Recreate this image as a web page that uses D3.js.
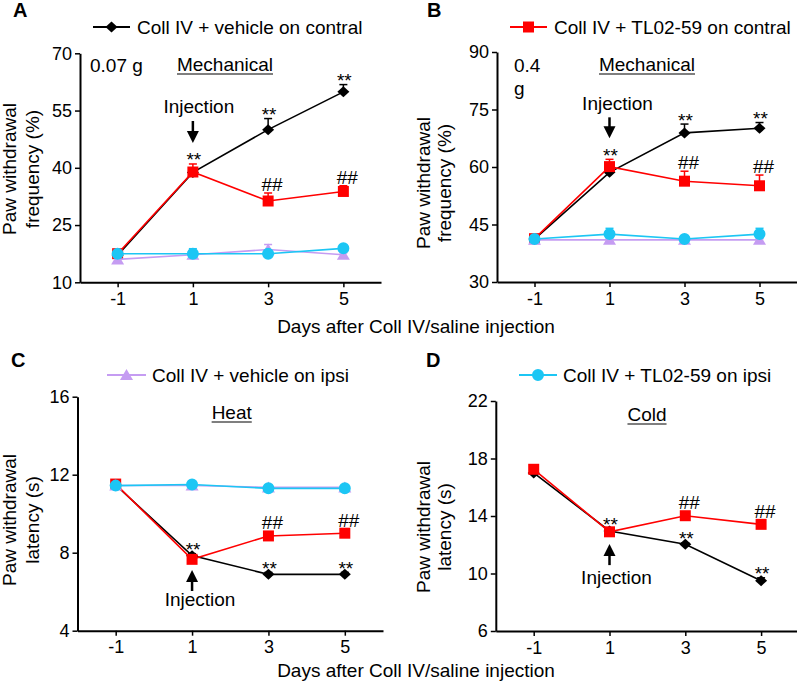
<!DOCTYPE html>
<html><head><meta charset="utf-8">
<script src="https://cdn.jsdelivr.net/npm/d3@7"></script>
<style>
body{margin:0;background:#fff}
svg{display:block}
text{font-family:"Liberation Sans",Arial,Helvetica,sans-serif;fill:#000}
</style>
</head><body>
<svg id="chart" width="797" height="685"></svg>
<script>
// ---------------- data ----------------
const days = [-1, 1, 3, 5];
const xTickValues = [-1, 1, 3, 5];
const seriesLabels = ["Coll IV + vehicle on contral", "Coll IV + TL02-59 on contral",
                      "Coll IV + vehicle on ipsi", "Coll IV + TL02-59 on ipsi"];

// Panel A – mechanical 0.07 g, frequency (%)
const aVehContral    = [17.1, 38.8, 50.0, 59.9];
const aVehContralErr = [0.5, 1.0, 2.9, 1.9];
const aTLContral     = [17.5, 38.9, 31.3, 33.8];
const aTLContralErr  = [0.5, 2.1, 2.1, 1.5];
const aVehIpsi       = [16.0, 17.2, 18.6, 17.2];
const aVehIpsiErr    = [0.5, 0.6, 1.3, 0.5];
const aTLIpsi        = [17.5, 17.5, 17.5, 18.9];
const aTLIpsiErr     = [0.5, 1.3, 0.5, 0.5];
const aYTicks = [10, 25, 40, 55, 70];

// Panel B – mechanical 0.4 g, frequency (%)
const bVehContral    = [41.2, 58.6, 68.9, 70.1];
const bVehContralErr = [0.4, 0.5, 2.3, 1.5];
const bTLContral     = [41.3, 60.1, 56.3, 55.1];
const bTLContralErr  = [0.4, 1.9, 2.6, 2.8];
const bVehIpsi       = [41.0, 41.0, 41.0, 41.0];
const bVehIpsiErr    = [0.3, 0.3, 0.3, 0.3];
const bTLIpsi        = [41.2, 42.5, 41.2, 42.5];
const bTLIpsiErr     = [0.4, 1.5, 0.5, 1.5];
const bYTicks = [30, 45, 60, 75, 90];

// Panel C – heat latency (s)
const cVehContral    = [11.47, 7.85, 6.89, 6.89];
const cVehContralErr = [0.1, 0.1, 0.1, 0.1];
const cTLContral     = [11.52, 7.66, 8.86, 9.0];
const cTLContralErr  = [0.1, 0.1, 0.1, 0.1];
const cVehIpsi       = [11.45, 11.45, 11.35, 11.35];
const cVehIpsiErr    = [0.1, 0.1, 0.1, 0.1];
const cTLIpsi        = [11.44, 11.5, 11.3, 11.3];
const cTLIpsiErr     = [0.1, 0.1, 0.1, 0.1];
const cYTicks = [4, 8, 12, 16];

// Panel D – cold latency (s)
const dVehContral    = [17.0, 12.96, 12.03, 9.5];
const dVehContralErr = [0.1, 0.1, 0.1, 0.2];
const dTLContral     = [17.25, 12.9, 14.02, 13.42];
const dTLContralErr  = [0.1, 0.1, 0.1, 0.1];
const dYTicks = [6, 10, 14, 18, 22];

// significance marks (days)
const starDays = [1, 3, 5];
const hashDays = [3, 5];

// ---------------- styles ----------------
const seriesStyle = [
  {color: "#000000", shape: "diamond"},
  {color: "#ff0000", shape: "square"},
  {color: "#c59cf2", shape: "triangle"},
  {color: "#1cc6f4", shape: "circle"}
];
const shapes = {
  diamond: "M0,-5.5L6,0L0,5.5L-6,0Z",
  square: "M-5.5,-5.5H5.5V5.5H-5.5Z",
  triangle: "M0,-6L6.5,5L-6.5,5Z",
  circle: d3.symbol(d3.symbolCircle, 113)()
};

const svg = d3.select("#chart");

const panels = [
  {letter: "A", lx: 13, ly: 17, left: 80, right: 381, top: 53.3, bottom: 282.3, yDomain: [10, 70], yTicks: aYTicks,
   series: [[aVehContral, aVehContralErr], [aTLContral, aTLContralErr], [aVehIpsi, aVehIpsiErr], [aTLIpsi, aTLIpsiErr]],
   legendIdx: 0, legend: {x1: 93, x2: 130, y: 27, tx: 137},
   yTitle: ["Paw withdrawal", "frequency (%)"], yt: {b1: 16, b2: 39, cy: 169},
   stim: "Mechanical", stimX: 225, stimY: 71,
   dose: [["0.07 g", 90, 72]],
   inj: {dir: "down", tipOff: -21, len: 22, textOff: -8, textDx: 6}},
  {letter: "B", lx: 427, ly: 17, left: 497, right: 797, top: 52, bottom: 282, yDomain: [30, 90], yTicks: bYTicks,
   series: [[bVehContral, bVehContralErr], [bTLContral, bTLContralErr], [bVehIpsi, bVehIpsiErr], [bTLIpsi, bTLIpsiErr]],
   legendIdx: 1, legend: {x1: 510, x2: 547, y: 27, tx: 554},
   yTitle: ["Paw withdrawal", "frequency (%)"], yt: {b1: 430, b2: 451, cy: 183},
   stim: "Mechanical", stimX: 647, stimY: 71,
   dose: [["0.4", 514, 72], ["g", 514, 95]],
   inj: {dir: "down", tipOff: -21, len: 21, textOff: -7, textDx: 8}},
  {letter: "C", lx: 11, ly: 367, left: 77.5, right: 383, top: 396.7, bottom: 630.7, yDomain: [4, 16], yTicks: cYTicks,
   series: [[cVehContral, cVehContralErr], [cTLContral, cTLContralErr], [cVehIpsi, cVehIpsiErr], [cTLIpsi, cTLIpsiErr]],
   legendIdx: 2, legend: {x1: 107, x2: 146, y: 375, tx: 152},
   yTitle: ["Paw withdrawal", "latency (s)"], yt: {b1: 16, b2: 39, cy: 520},
   stim: "Heat", stimX: 231.7, stimY: 419,
   dose: [],
   inj: {dir: "up", tipOff: 10.7, len: 21, textOff: 15, textDx: 8}},
  {letter: "D", lx: 426, ly: 367, left: 495.8, right: 799, top: 401, bottom: 631, yDomain: [6, 22], yTicks: dYTicks,
   series: [[dVehContral, dVehContralErr], [dTLContral, dTLContralErr]],
   legendIdx: 3, legend: {x1: 519, x2: 557, y: 375, tx: 563},
   yTitle: ["Paw withdrawal", "latency (s)"], yt: {b1: 430, b2: 451, cy: 527},
   stim: "Cold", stimX: 647, stimY: 421,
   dose: [],
   inj: {dir: "up", tipOff: 12.3, len: 21, textOff: 18.5, textDx: 7}}
];

function drawPanel(p) {
  const g = svg.append("g");
  const x = d3.scaleLinear().domain([-2, 6]).range([p.left, p.right]);
  const y = d3.scaleLinear().domain(p.yDomain).range([p.bottom, p.top]);

  // axes
  const ya = g.append("g").attr("transform", `translate(${p.left},0)`)
    .call(d3.axisLeft(y).tickValues(p.yTicks).tickFormat(d => String(d)).tickSize(5).tickPadding(3).tickSizeOuter(0));
  const xa = g.append("g").attr("transform", `translate(0,${p.bottom})`)
    .call(d3.axisBottom(x).tickValues(xTickValues).tickFormat(d => String(d)).tickSize(5).tickPadding(5).tickSizeOuter(0));
  [ya, xa].forEach(a => {
    a.select(".domain").attr("stroke", "#000").attr("stroke-width", 2);
    a.selectAll(".tick line").attr("stroke", "#000").attr("stroke-width", 1.5);
    a.selectAll(".tick text").attr("font-size", 18).attr("font-family", null).attr("fill", "#000");
  });

  // series
  p.series.forEach((s, si) => {
    const st = seriesStyle[si];
    const pts = days.map((d, i) => ({d, v: s[0][i], e: s[1][i]}));
    g.append("path").datum(pts)
      .attr("fill", "none").attr("stroke", st.color).attr("stroke-width", 1.6)
      .attr("d", d3.line().x(q => x(q.d)).y(q => y(q.v)));
    const eb = g.append("g").attr("stroke", st.color).attr("stroke-width", 1.5);
    pts.forEach(q => {
      eb.append("line").attr("x1", x(q.d)).attr("x2", x(q.d)).attr("y1", y(q.v)).attr("y2", y(q.v + q.e));
      eb.append("line").attr("x1", x(q.d) - 4).attr("x2", x(q.d) + 4).attr("y1", y(q.v + q.e)).attr("y2", y(q.v + q.e));
    });
    g.selectAll(null).data(pts).enter().append("path")
      .attr("d", shapes[st.shape]).attr("fill", st.color)
      .attr("transform", q => `translate(${x(q.d)},${y(q.v)})`);
  });

  // significance: ** belongs to the vehicle (black) series, ## to TL02-59 (red)
  const veh = p.series[0], tl = p.series[1];
  const topOf = (s, i) => Math.min(y(s[0][i] + s[1][i]) + 2.5, y(s[0][i]) + 0.5);
  starDays.forEach(d => {
    const i = days.indexOf(d);
    let b = topOf(veh, i);
    if (Math.abs(y(veh[0][i]) - y(tl[0][i])) < 15) b = Math.min(b, topOf(tl, i));
    g.append("text").attr("x", x(d) + 1).attr("y", b).attr("text-anchor", "middle")
      .attr("font-size", 19).text("**");
  });
  hashDays.forEach(d => {
    const i = days.indexOf(d);
    const b = Math.min(y(tl[0][i] + tl[1][i]) - 2, y(tl[0][i]) - 6.5);
    g.append("text").attr("x", x(d) + 4).attr("y", b).attr("text-anchor", "middle")
      .attr("font-size", 19).text("##");
  });

  // injection arrow
  const i1 = days.indexOf(1);
  const ref = p.inj.dir === "down" ? y(tl[0][i1] + tl[1][i1]) : y(tl[0][i1]);
  const tip = ref + p.inj.tipOff;
  const sgn = p.inj.dir === "down" ? -1 : 1; // direction from tip to tail
  const tail = tip + sgn * p.inj.len;
  const ax = x(1);
  g.append("line").attr("x1", ax).attr("x2", ax).attr("y1", tail).attr("y2", tip + sgn * 10)
    .attr("stroke", "#000").attr("stroke-width", 2.5);
  g.append("path").attr("fill", "#000")
    .attr("d", `M${ax},${tip}L${ax - 6},${tip + sgn * 12}L${ax + 6},${tip + sgn * 12}Z`);
  g.append("text").attr("x", ax + p.inj.textDx).attr("y", tail + p.inj.textOff)
    .attr("text-anchor", "middle").attr("font-size", 19).text("Injection");

  // stimulus label, underlined
  const st = g.append("text").attr("x", p.stimX).attr("y", p.stimY)
    .attr("text-anchor", "middle").attr("font-size", 19).text(p.stim);
  const w = st.node().getComputedTextLength();
  g.append("line").attr("x1", p.stimX - w / 2).attr("x2", p.stimX + w / 2)
    .attr("y1", p.stimY + 3).attr("y2", p.stimY + 3).attr("stroke", "#000").attr("stroke-width", 1.2);

  p.dose.forEach(dd => g.append("text").attr("x", dd[1]).attr("y", dd[2]).attr("font-size", 19).text(dd[0]));

  // legend
  const ls = seriesStyle[p.legendIdx];
  g.append("line").attr("x1", p.legend.x1).attr("x2", p.legend.x2).attr("y1", p.legend.y).attr("y2", p.legend.y)
    .attr("stroke", ls.color).attr("stroke-width", 2);
  g.append("path").attr("d", shapes[ls.shape]).attr("fill", ls.color)
    .attr("transform", `translate(${(p.legend.x1 + p.legend.x2) / 2},${p.legend.y})`);
  g.append("text").attr("x", p.legend.tx).attr("y", p.legend.y + 7).attr("font-size", 19).text(seriesLabels[p.legendIdx]);

  // y title
  [p.yt.b1, p.yt.b2].forEach((bx, k) => {
    g.append("text").attr("transform", `translate(${bx},${p.yt.cy}) rotate(-90)`)
      .attr("text-anchor", "middle").attr("font-size", 19).text(p.yTitle[k]);
  });

  // panel letter
  g.append("text").attr("x", p.lx).attr("y", p.ly).attr("font-size", 20).attr("font-weight", "bold").text(p.letter);
}

panels.forEach(drawPanel);

// shared x titles
[333, 677].forEach(by => {
  svg.append("text").attr("x", 416).attr("y", by).attr("text-anchor", "middle")
    .attr("font-size", 19).text("Days after Coll IV/saline injection");
});
</script>
</body></html>
